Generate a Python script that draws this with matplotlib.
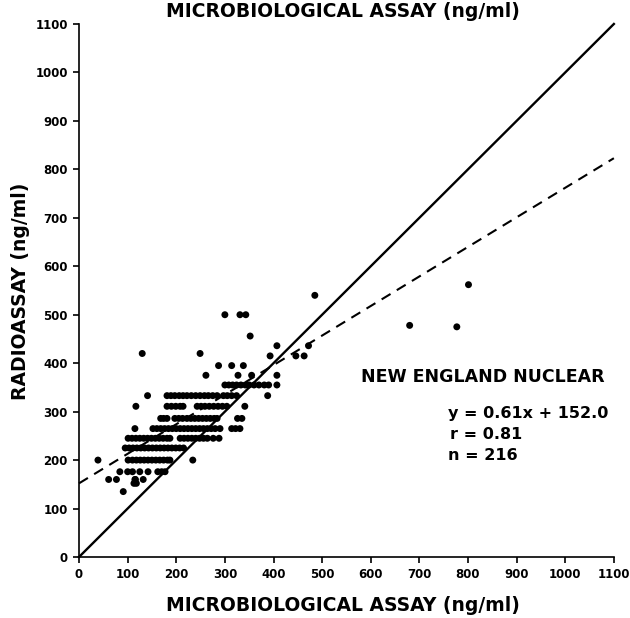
import numpy as np
import matplotlib.pyplot as plt

# Radioassay level of each row of dots, and the microbiological values on that row (ng/ml)
row_levels = [562, 540, 500, 478, 475, 456, 436, 420, 415, 395, 375, 355,
              333, 311, 286, 265, 245, 225, 200, 176, 160, 152, 135]
row_micro = [
    [801],
    [485],
    [300, 331, 343],
    [680],
    [777],
    [352],
    [407, 472],
    [130, 249],
    [393, 446, 463],
    [287, 314, 338],
    [261, 327, 355, 407],
    [300, 308, 316, 324, 333, 342, 350, 360, 370, 381, 390, 407],
    [141, 181, 189, 197, 206, 214, 222, 231, 240, 249, 258, 266, 275, 284, 297, 305, 314, 324, 388],
    [117, 181, 190, 199, 208, 214, 243, 251, 259, 268, 277, 286, 295, 304, 341],
    [168, 174, 181, 197, 205, 213, 222, 230, 238, 246, 254, 262, 270, 278, 284, 326, 335],
    [115, 152, 160, 168, 176, 184, 192, 200, 208, 216, 224, 232, 240, 248, 256, 264, 272, 280, 290, 314, 322, 331],
    [101, 109, 117, 125, 133, 141, 149, 157, 165, 173, 181, 187, 208, 216, 224, 232, 240, 248, 256, 264, 276, 288],
    [95, 103, 111, 119, 127, 135, 143, 151, 159, 167, 175, 183, 191, 199, 207, 215],
    [39, 101, 110, 118, 126, 134, 142, 150, 158, 166, 174, 182, 187, 234],
    [84, 100, 110, 125, 142, 162, 170, 177],
    [61, 77, 115, 116, 132],
    [113, 118],
    [91],
]

slope = 0.61
intercept = 152.0
ticks = list(range(0, 1101, 100))

micro = np.concatenate([np.array(r, dtype=float) for r in row_micro])
radio = np.concatenate([np.full(len(r), lv, dtype=float) for r, lv in zip(row_micro, row_levels)])

plt.rcParams['font.family'] = 'DejaVu Sans'
plt.rcParams['font.weight'] = 'bold'

fig = plt.figure(figsize=(6.3, 6.18), dpi=100)
ax = fig.add_axes([0.1254, 0.0987, 0.849, 0.8625])

ax.scatter(micro, radio, s=25, color='black', edgecolors='none', zorder=3, clip_on=False)

line_x = np.array([0, 1100])
ax.plot(line_x, line_x, color='black', lw=1.7, clip_on=False)
ax.plot(line_x, slope * line_x + intercept, color='black', lw=1.5, ls=(0, (5, 3.5)), clip_on=False)

ax.set_xlim(0, 1100)
ax.set_ylim(0, 1100)
ax.set_xticks(ticks)
ax.set_yticks(ticks)
ax.tick_params(direction='out', length=4, width=1.2, labelsize=8.5, pad=4)
for lab in ax.get_xticklabels() + ax.get_yticklabels():
    lab.set_fontweight('bold')
ax.spines['top'].set_visible(False)
ax.spines['right'].set_visible(False)
ax.spines['left'].set_linewidth(1.2)
ax.spines['bottom'].set_linewidth(1.2)

fig.text(0.545, 0.981, 'MICROBIOLOGICAL ASSAY (ng/ml)', ha='center', va='center',
         fontsize=13.5, fontweight='bold')
fig.text(0.545, 0.021, 'MICROBIOLOGICAL ASSAY (ng/ml)', ha='center', va='center',
         fontsize=13.5, fontweight='bold')
fig.text(0.032, 0.528, 'RADIOASSAY (ng/ml)', ha='center', va='center', rotation=90,
         fontsize=13.5, fontweight='bold')

ax.text(1082, 371, 'NEW ENGLAND NUCLEAR', ha='right', va='center', fontsize=12.5, fontweight='bold')
ax.text(758, 296, f'y = {slope:.2f}x + {intercept:.1f}', ha='left', va='center', fontsize=11.5, fontweight='bold')
ax.text(764, 252, 'r = 0.81', ha='left', va='center', fontsize=11.5, fontweight='bold')
ax.text(758, 210, 'n = 216', ha='left', va='center', fontsize=11.5, fontweight='bold')

fig.savefig('out.png', dpi=100)
